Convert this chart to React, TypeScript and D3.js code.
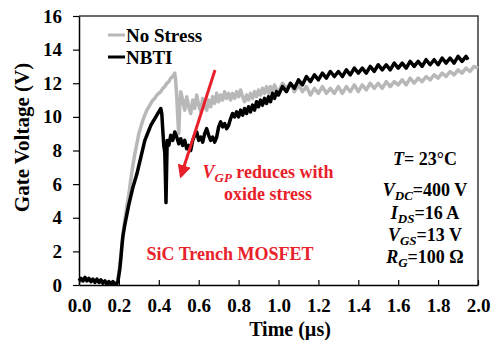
import React, { useEffect, useRef } from 'react';
import * as d3 from 'd3';

// [time (µs), gate voltage (V)]
const noStress: [number, number][] = [
  [0, 0.2], [0.05, 0.3], [0.1, 0.2], [0.15, 0.15], [0.19, 0.1], [0.2, 0.7], [0.21, 1.8], [0.22, 3.0],
  [0.23, 3.9], [0.24, 4.7], [0.25, 5.4], [0.26, 6.3], [0.27, 7.1], [0.28, 7.8], [0.29, 8.4], [0.3, 9.0],
  [0.31, 9.4], [0.32, 9.8], [0.33, 10.1], [0.34, 10.4], [0.35, 10.6], [0.36, 10.8], [0.37, 11.0],
  [0.38, 11.1], [0.39, 11.3], [0.4, 11.4], [0.41, 11.5], [0.42, 11.7], [0.43, 11.8], [0.44, 12.0],
  [0.45, 12.1], [0.46, 12.3], [0.47, 12.4], [0.48, 12.6], [0.485, 12.1], [0.49, 11.2], [0.495, 10.0],
  [0.5, 9.0], [0.505, 10.6], [0.51, 11.5], [0.52, 11.0], [0.53, 10.4], [0.54, 11.2], [0.55, 10.6],
  [0.56, 10.2], [0.57, 11.0], [0.58, 10.5], [0.59, 11.3], [0.6, 10.7], [0.61, 10.3], [0.62, 11.1],
  [0.63, 10.6], [0.64, 10.4], [0.65, 11.0], [0.66, 10.6], [0.67, 11.2], [0.68, 10.8], [0.69, 11.4],
  [0.7, 10.9], [0.71, 11.3], [0.72, 11.0], [0.73, 11.5], [0.74, 11.1], [0.75, 11.4], [0.76, 11.0],
  [0.77, 11.4], [0.78, 11.1], [0.79, 11.5], [0.8, 11.2], [0.81, 11.6], [0.82, 11.2], [0.83, 10.9],
  [0.84, 11.3], [0.85, 11.0], [0.86, 11.4], [0.87, 11.1], [0.88, 11.5], [0.89, 11.2], [0.9, 11.6],
  [0.91, 11.3], [0.92, 11.7], [0.93, 11.4], [0.94, 11.8], [0.95, 11.4], [0.96, 11.8], [0.97, 11.5],
  [0.98, 11.9], [0.99, 11.6], [1.0, 11.5], [1.02, 12.0], [1.04, 11.7], [1.06, 12.0], [1.08, 11.5],
  [1.1, 11.9], [1.12, 11.5], [1.14, 11.8], [1.16, 11.3], [1.18, 11.7], [1.2, 11.4], [1.22, 11.8],
  [1.24, 11.4], [1.26, 11.7], [1.28, 11.4], [1.3, 11.8], [1.32, 11.4], [1.34, 11.8], [1.36, 11.5],
  [1.38, 11.9], [1.4, 11.5], [1.42, 11.9], [1.44, 11.6], [1.46, 12.0], [1.48, 11.7], [1.5, 12.0],
  [1.52, 11.7], [1.54, 12.1], [1.56, 11.8], [1.58, 12.1], [1.6, 11.9], [1.62, 12.2], [1.64, 11.9],
  [1.66, 12.3], [1.68, 12.0], [1.7, 12.3], [1.72, 12.1], [1.74, 12.4], [1.76, 12.2], [1.78, 12.5],
  [1.8, 12.3], [1.82, 12.6], [1.84, 12.4], [1.86, 12.7], [1.88, 12.5], [1.9, 12.8], [1.92, 12.6],
  [1.94, 12.9], [1.96, 12.7], [1.98, 13.0], [2.0, 12.9],
];

const nbti: [number, number][] = [
  [0, 0.25], [0.01, 0.4], [0.02, 0.25], [0.03, 0.45], [0.04, 0.25], [0.05, 0.4], [0.06, 0.2],
  [0.07, 0.35], [0.08, 0.15], [0.09, 0.35], [0.1, 0.15], [0.11, 0.3], [0.12, 0.1], [0.13, 0.25],
  [0.14, 0.05], [0.15, 0.2], [0.16, 0.05], [0.17, 0.2], [0.18, 0.05], [0.19, 0.1], [0.195, 0.2],
  [0.2, 0.6], [0.205, 1.0], [0.21, 1.6], [0.215, 2.3], [0.22, 2.9], [0.23, 3.6], [0.24, 4.2],
  [0.25, 4.8], [0.26, 5.3], [0.27, 5.8], [0.28, 6.2], [0.29, 6.6], [0.3, 7.1], [0.31, 7.6], [0.32, 8.1],
  [0.33, 8.6], [0.34, 8.9], [0.35, 9.2], [0.36, 9.5], [0.37, 9.7], [0.38, 9.9], [0.39, 10.1], [0.4, 10.3],
  [0.41, 10.5], [0.415, 10.2], [0.42, 9.2], [0.425, 8.3], [0.43, 7.9], [0.433, 6.5], [0.436, 4.9],
  [0.439, 6.8], [0.442, 8.6], [0.45, 8.3], [0.46, 8.9], [0.47, 8.6], [0.48, 9.1], [0.49, 8.8],
  [0.5, 8.4], [0.51, 8.7], [0.52, 8.3], [0.53, 8.6], [0.54, 8.1], [0.55, 8.3], [0.56, 8.0], [0.57, 8.6],
  [0.58, 8.9], [0.59, 9.1], [0.6, 8.6], [0.61, 8.8], [0.62, 8.5], [0.63, 9.0], [0.64, 9.3], [0.65, 8.9],
  [0.66, 8.6], [0.67, 8.8], [0.68, 8.5], [0.69, 8.8], [0.7, 9.4], [0.71, 9.7], [0.72, 9.4], [0.73, 9.6],
  [0.74, 9.3], [0.75, 9.5], [0.76, 9.9], [0.77, 10.2], [0.78, 10.0], [0.79, 10.3], [0.8, 10.0],
  [0.81, 10.4], [0.82, 10.1], [0.83, 10.5], [0.84, 10.2], [0.85, 10.6], [0.86, 10.3], [0.87, 10.7],
  [0.88, 10.4], [0.89, 10.9], [0.9, 10.6], [0.91, 11.0], [0.92, 10.7], [0.93, 11.1], [0.94, 10.8],
  [0.95, 11.2], [0.96, 10.9], [0.97, 11.4], [0.98, 11.1], [0.99, 11.5], [1.0, 11.3], [1.02, 11.8],
  [1.04, 11.5], [1.06, 12.0], [1.08, 11.7], [1.1, 12.2], [1.12, 11.9], [1.14, 12.4], [1.16, 12.1],
  [1.18, 12.5], [1.2, 12.2], [1.22, 12.6], [1.24, 12.3], [1.26, 12.7], [1.28, 12.4], [1.3, 12.7],
  [1.32, 12.4], [1.34, 12.8], [1.36, 12.5], [1.38, 12.9], [1.4, 12.6], [1.42, 12.9], [1.44, 12.6],
  [1.46, 13.0], [1.48, 12.7], [1.5, 13.1], [1.52, 12.8], [1.54, 13.1], [1.56, 12.8], [1.58, 13.2],
  [1.6, 12.9], [1.62, 13.2], [1.64, 12.9], [1.66, 13.3], [1.68, 13.0], [1.7, 13.3], [1.72, 13.0],
  [1.74, 13.4], [1.76, 13.1], [1.78, 13.4], [1.8, 13.1], [1.82, 13.5], [1.84, 13.2], [1.86, 13.5],
  [1.88, 13.2], [1.9, 13.6], [1.92, 13.3], [1.94, 13.6], [1.95, 13.4],
];

const xTicks = [0, 0.2, 0.4, 0.6, 0.8, 1.0, 1.2, 1.4, 1.6, 1.8, 2.0];
const yTicks = [0, 2, 4, 6, 8, 10, 12, 14, 16];

const FONT = "'Liberation Serif', 'Times New Roman', serif";
const RED = '#e8202a';
const GRAY = '#b8b8b8';

const App = () => {
  const xAxisRef = useRef<SVGGElement>(null);
  const yAxisRef = useRef<SVGGElement>(null);

  const width = 494;
  const height = 340;
  const margin = { top: 16, right: 16, bottom: 55, left: 79 };

  const x = d3.scaleLinear().domain([0, 2]).range([margin.left, width - margin.right]);
  const y = d3.scaleLinear().domain([0, 16]).range([height - margin.bottom, margin.top]);

  const line = d3.line<[number, number]>()
    .x(d => x(d[0]))
    .y(d => y(d[1]));

  useEffect(() => {
    // bottom axis, ticks pointing inward
    const gx = d3.select(xAxisRef.current!);
    gx.selectAll('*').remove();
    gx.call(d3.axisBottom(x).tickValues(xTicks).tickFormat(d3.format('.1f')).tickSizeInner(-5).tickSizeOuter(0));
    gx.attr('font-family', FONT).attr('font-size', 19).attr('font-weight', 'bold');
    gx.select('.domain').attr('stroke', '#000').attr('stroke-width', 1.5);
    gx.selectAll('.tick line').attr('stroke', '#000').attr('stroke-width', 1.2);
    gx.selectAll('.tick text').attr('y', 27).attr('dy', 0).attr('fill', '#000');

    // left axis, ticks pointing outward
    const gy = d3.select(yAxisRef.current!);
    gy.selectAll('*').remove();
    gy.call(d3.axisLeft(y).tickValues(yTicks).tickSizeInner(6).tickSizeOuter(0).tickPadding(11));
    gy.attr('font-family', FONT).attr('font-size', 19).attr('font-weight', 'bold');
    gy.select('.domain').attr('stroke', '#000').attr('stroke-width', 1.5);
    gy.selectAll('.tick line').attr('stroke', '#000').attr('stroke-width', 1.2);
    gy.selectAll('.tick text').attr('fill', '#000');
  }, []);

  const x0 = x(0), x1 = x(2), y0 = y(0), y1 = y(16);

  return (
    <svg width={width} height={height} style={{ position: 'absolute', left: 0, top: 0, background: '#fff' }}
      fontFamily={FONT} fontWeight="bold">
      <defs>
        <marker id="arrowhead" viewBox="0 0 10 10" refX="8" refY="5" markerWidth="4.5" markerHeight="4.5"
          orient="auto" markerUnits="strokeWidth">
          <path d="M0,0 L10,5 L0,10 z" fill={RED} />
        </marker>
      </defs>

      {/* plot frame */}
      <path d={`M${x0},${y1} H${x1} V${y0}`} fill="none" stroke="#3a3a3a" strokeWidth={1.5} />

      {/* series */}
      <path d={line(noStress) ?? ''} fill="none" stroke={GRAY} strokeWidth={3.5} strokeLinejoin="round" />
      <path d={line(nbti) ?? ''} fill="none" stroke="#000" strokeWidth={3.5} strokeLinejoin="round" />

      <g ref={xAxisRef} transform={`translate(0,${y0})`} />
      <g ref={yAxisRef} transform={`translate(${x0},0)`} />

      {/* axis titles */}
      <text x={290} y={336} textAnchor="middle" fontSize={20}>Time (µs)</text>
      <text transform={`translate(29,${(y0 + y1) / 2 - 13}) rotate(-90)`} textAnchor="middle" fontSize={21}>
        Gate Voltage (V)
      </text>

      {/* legend */}
      <line x1={108} x2={125} y1={35} y2={35} stroke={GRAY} strokeWidth={3} />
      <text x={126} y={42} fontSize={19}>No Stress</text>
      <line x1={108} x2={125} y1={57} y2={57} stroke="#000" strokeWidth={3} />
      <text x={126} y={64} fontSize={19}>NBTI</text>

      {/* arrow + red notes */}
      <line x1={215} y1={70} x2={181} y2={176} stroke={RED} strokeWidth={3} markerEnd="url(#arrowhead)" />
      <text x={268} y={178} textAnchor="middle" fontSize={18} fill={RED}>
        <tspan fontStyle="italic">V</tspan>
        <tspan fontStyle="italic" fontSize={13} dy={4}>GP</tspan>
        <tspan dy={-4}> reduces with</tspan>
      </text>
      <text x={268} y={200} textAnchor="middle" fontSize={18} fill={RED}>oxide stress</text>
      <text x={230} y={260} textAnchor="middle" fontSize={18} fill={RED}>SiC Trench MOSFET</text>

      {/* test conditions */}
      <g fontSize={18} fill="#000" textAnchor="middle">
        <text x={425} y={165}><tspan fontStyle="italic">T</tspan>= 23°C</text>
        <text x={425} y={196}>
          <tspan fontStyle="italic">V</tspan>
          <tspan fontStyle="italic" fontSize={13} dy={4}>DC</tspan>
          <tspan dy={-4}>=400 V</tspan>
        </text>
        <text x={425} y={219}>
          <tspan fontStyle="italic">I</tspan>
          <tspan fontStyle="italic" fontSize={13} dy={4}>DS</tspan>
          <tspan dy={-4}>=16 A</tspan>
        </text>
        <text x={425} y={241}>
          <tspan fontStyle="italic">V</tspan>
          <tspan fontStyle="italic" fontSize={13} dy={4}>GS</tspan>
          <tspan dy={-4}>=13 V</tspan>
        </text>
        <text x={425} y={263}>
          <tspan fontStyle="italic">R</tspan>
          <tspan fontStyle="italic" fontSize={13} dy={4}>G</tspan>
          <tspan dy={-4}>=100 Ω</tspan>
        </text>
      </g>
    </svg>
  );
};

export default App;
